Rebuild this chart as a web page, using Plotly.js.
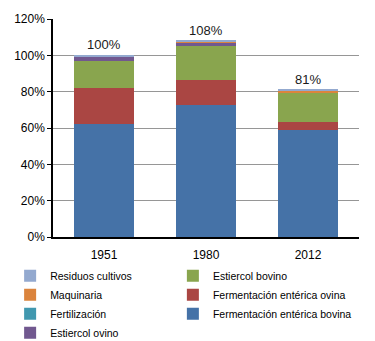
<!DOCTYPE html>
<html>
<head>
<meta charset="utf-8">
<script src="https://cdn.plot.ly/plotly-3.0.1.min.js"></script>
<style>html,body{margin:0;padding:0;background:#fff}#chart{width:375px;height:341px}</style>
</head>
<body>
<div id="chart"></div>
<script>
const years = ['1951', '1980', '2012'];
const fermBovina = [62.3, 72.8, 59.0];
const fermOvina = [19.5, 13.6, 4.3];
const estiercolBovino = [15.3, 18.6, 16.2];
const estiercolOvino = [2.4, 1.8, 0.1];
const fertilizacion = [0.0, 0.3, 0.2];
const maquinaria = [0.0, 0.5, 0.7];
const residuos = [0.5, 0.4, 0.5];
const yTicks = [0, 20, 40, 60, 80, 100, 120];
const yTickText = ['0%', '20%', '40%', '60%', '80%', '100%', '120%'];

// stacking order bottom -> top; legend column
const seriesDefs = [
  {name: 'Fermentación entérica bovina', y: fermBovina, color: '#4572A7', legend: 'legend2'},
  {name: 'Fermentación entérica ovina', y: fermOvina, color: '#AA4643', legend: 'legend2'},
  {name: 'Estiercol bovino', y: estiercolBovino, color: '#89A54E', legend: 'legend2'},
  {name: 'Estiercol ovino', y: estiercolOvino, color: '#71588F', legend: 'legend'},
  {name: 'Fertilización', y: fertilizacion, color: '#4198AF', legend: 'legend'},
  {name: 'Maquinaria', y: maquinaria, color: '#DB843D', legend: 'legend'},
  {name: 'Residuos cultivos', y: residuos, color: '#93A9CF', legend: 'legend'}
];

const traces = seriesDefs.map(s => ({
  type: 'bar', x: years, y: s.y, name: s.name,
  marker: {color: s.color, line: {width: 0}},
  legend: s.legend, hoverinfo: 'none'
}));

const totals = years.map((_, i) => seriesDefs.reduce((a, s) => a + s.y[i], 0));
const annotations = years.map((yr, i) => ({
  x: i, y: totals[i], text: Math.round(totals[i]) + '%',
  showarrow: false, yanchor: 'bottom', yshift: 1,
  font: {family: 'Liberation Sans, Arial, sans-serif', size: 13, color: '#1a1a1a'}
}));

const legendCommon = {
  orientation: 'h', xref: 'container', yref: 'container',
  xanchor: 'left', yanchor: 'top', y: 0.234,
  entrywidth: 150, traceorder: 'reversed',
  font: {family: 'Liberation Sans, Arial, sans-serif', size: 10.5, color: '#000'},
  tracegroupgap: 0, bgcolor: 'rgba(0,0,0,0)', borderwidth: 0
};

const layout = {
  width: 375, height: 341,
  margin: {l: 53, r: 16, t: 19, b: 104},
  barmode: 'stack', bargap: 0.42,
  paper_bgcolor: '#fff', plot_bgcolor: '#fff',
  font: {family: 'Liberation Sans, Arial, sans-serif', size: 12, color: '#000'},
  xaxis: {
    type: 'category', range: [-0.5, 2.5], showline: true, linecolor: '#000', linewidth: 1.5,
    ticks: '', ticklabelstandoff: 6, tickfont: {size: 12}, showgrid: false, zeroline: false,
    automargin: false, fixedrange: true
  },
  yaxis: {
    range: [0, 120], tickvals: yTicks, ticktext: yTickText,
    showline: true, linecolor: '#000', linewidth: 1.5,
    ticks: 'outside', ticklen: 4, tickcolor: '#000',
    showgrid: true, gridcolor: '#969696', gridwidth: 1, zeroline: false,
    tickfont: {size: 12}, automargin: false, fixedrange: true
  },
  showlegend: true,
  legend: Object.assign({}, legendCommon, {x: 0.027}),
  legend2: Object.assign({}, legendCommon, {x: 0.461}),
  annotations: annotations
};

Plotly.newPlot('chart', traces, layout, {displayModeBar: false});
</script>
</body>
</html>
